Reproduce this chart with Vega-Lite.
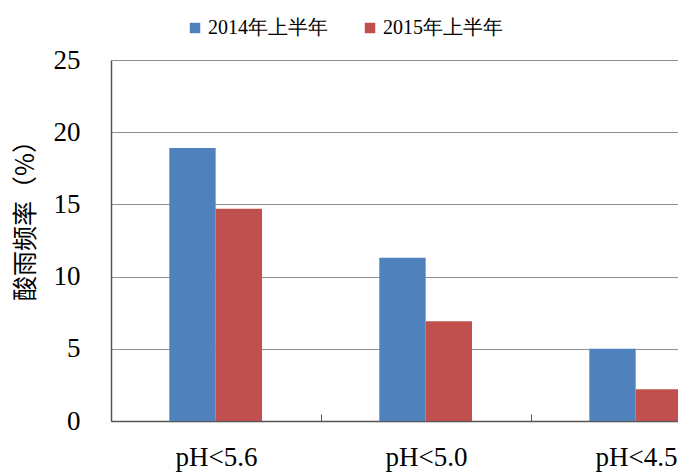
{
  "$schema": "https://vega.github.io/schema/vega-lite/v6.json",
  "autosize": "none",
  "width": 567,
  "height": 361,
  "padding": {"left": 111, "top": 60, "right": 0, "bottom": 52},
  "background": "white",
  "data": {
    "values": [
      {"category": "pH<5.6", "period": "2014年上半年", "value": 18.9},
      {"category": "pH<5.6", "period": "2015年上半年", "value": 14.7},
      {"category": "pH<5.0", "period": "2014年上半年", "value": 11.3},
      {"category": "pH<5.0", "period": "2015年上半年", "value": 6.9},
      {"category": "pH<4.5", "period": "2014年上半年", "value": 5.0},
      {"category": "pH<4.5", "period": "2015年上半年", "value": 2.2}
    ]
  },
  "config": {
    "view": {"stroke": null},
    "font": "Liberation Serif"
  },
  "mark": {"type": "bar", "clip": false},
  "encoding": {
    "x": {
      "field": "category",
      "type": "nominal",
      "sort": ["pH<5.6", "pH<5.0", "pH<4.5"],
      "scale": {"range": [0, 630], "paddingInner": 0, "paddingOuter": 0},
      "axis": {
        "title": null,
        "labelAngle": 0,
        "labelFont": "Liberation Serif",
        "labelFontSize": 27,
        "labelColor": "#000000",
        "labelPadding": 30,
        "tickBand": "extent",
        "tickSize": -7,
        "tickColor": "#555555",
        "domainColor": "#555555",
        "domainWidth": 1.5,
        "grid": false
      }
    },
    "xOffset": {
      "field": "period",
      "type": "nominal",
      "scale": {"range": [58.3, 151], "paddingInner": 0, "paddingOuter": 0}
    },
    "y": {
      "field": "value",
      "type": "quantitative",
      "scale": {"domain": [0, 25], "nice": false},
      "axis": {
        "title": "酸雨频率（%）",
        "titleFont": "Noto Sans CJK SC",
        "titleFontSize": 25,
        "titleFontWeight": "normal",
        "titleColor": "#000000",
        "titleAngle": -90,
        "titleX": -86,
        "titleY": 154,
        "titleAlign": "center",
        "titleBaseline": "middle",
        "values": [0, 5, 10, 15, 20, 25],
        "labelFont": "Liberation Serif",
        "labelFontSize": 27,
        "labelColor": "#000000",
        "labelPadding": 31,
        "ticks": false,
        "domainColor": "#555555",
        "domainWidth": 1.5,
        "grid": true,
        "gridColor": "#909090",
        "gridWidth": 1
      }
    },
    "color": {
      "field": "period",
      "type": "nominal",
      "scale": {"domain": ["2014年上半年", "2015年上半年"], "range": ["#4F81BD", "#C0504D"]},
      "legend": {
        "title": null,
        "orient": "none",
        "direction": "horizontal",
        "legendX": 74,
        "legendY": -42,
        "symbolType": "square",
        "symbolSize": 110,
        "symbolStrokeWidth": 0,
        "labelFont": "Liberation Serif",
        "labelFontSize": 20,
        "labelColor": "#000000",
        "labelOffset": 3,
        "columnPadding": 32
      }
    }
  }
}
